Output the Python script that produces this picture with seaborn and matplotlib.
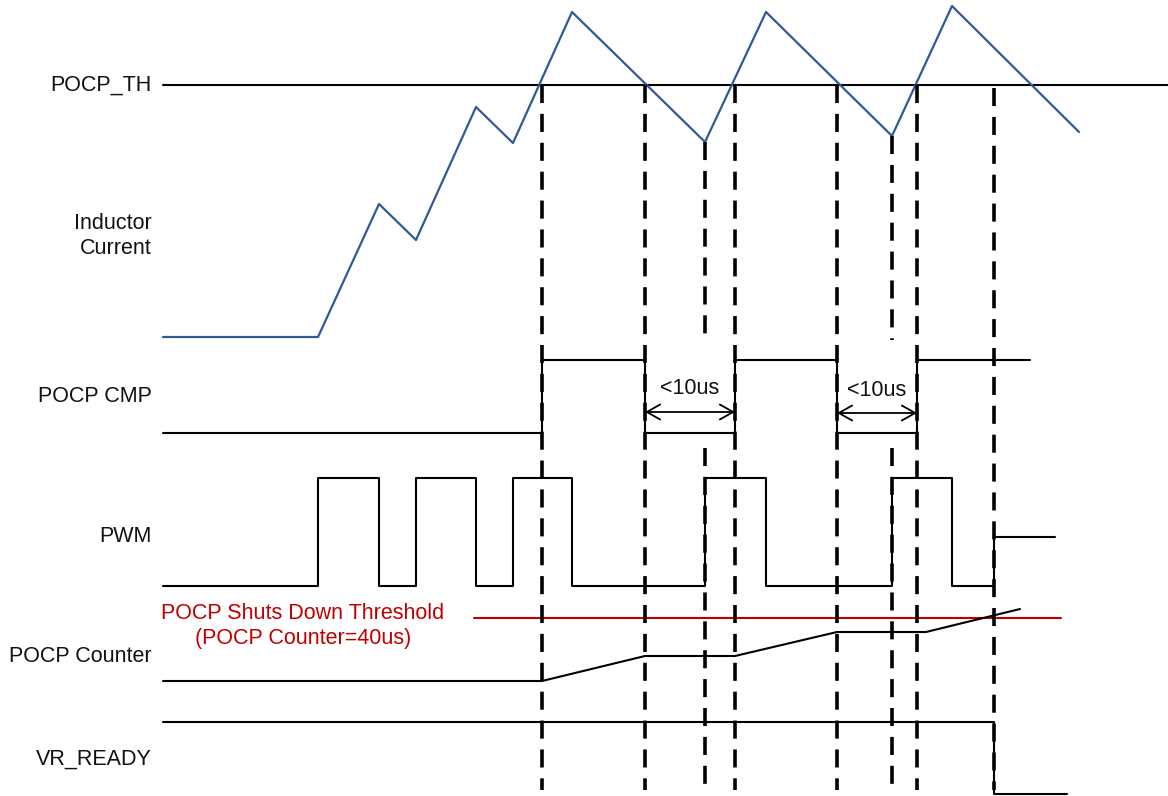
import matplotlib
matplotlib.use("Agg")
import matplotlib.pyplot as plt
import seaborn as sns
import pandas as pd

sns.set_theme(style="white")
plt.rcParams['font.family'] = ['Liberation Sans', 'DejaVu Sans']

# ---- waveform data (time in px-like units, level in px-like units, y grows downward) ----
il_t = [163, 318, 379, 416, 476, 513, 572, 705, 766, 892, 952, 1079]
il_y = [337, 337, 204, 240, 107, 143, 12, 142, 12, 136, 6, 132]

th_t = [163, 1168]
th_y = [85, 85]

cmp_t = [163, 542, 542, 645, 645, 735, 735, 837, 837, 917, 917, 1030]
cmp_y = [433, 433, 360, 360, 433, 433, 360, 360, 433, 433, 360, 360]

pwm_t = [163, 318, 318, 379, 379, 416, 416, 476, 476, 513, 513, 572, 572, 705, 705,
         766, 766, 892, 892, 952, 952, 994, 994, 1055]
pwm_y = [586, 586, 478, 478, 586, 586, 478, 478, 586, 586, 478, 478, 586, 586, 478,
         478, 586, 586, 478, 478, 586, 586, 537, 537]

cnt_t = [163, 542, 645, 735, 837, 926, 1020]
cnt_y = [681, 681, 656, 656, 632, 632, 609]

shut_t = [474, 1061]
shut_y = [618, 618]

vr_t = [163, 994, 994, 1067]
vr_y = [722, 722, 794, 794]

# dashed event markers: x, start, end
mark_x = [542, 645, 705, 705, 735, 837, 892, 892, 917, 994]
mark_y0 = [85, 85, 142, 448, 85, 85, 136, 448, 85, 88]
mark_y1 = [790, 790, 340, 790, 790, 790, 340, 790, 790, 790]

# interval annotations
gap_x0 = [645, 837]
gap_x1 = [735, 917]
gap_y = [412, 413]
gap_label = ["<10us", "<10us"]

labels = ["POCP_TH", "Inductor\nCurrent", "POCP CMP", "PWM", "POCP Counter", "VR_READY"]
label_y = [85, 236, 397, 536, 657, 759]

red_text = "POCP Shuts Down Threshold\n(POCP Counter=40us)"

fig = plt.figure(figsize=(11.68, 7.96), dpi=100)
ax = fig.add_axes([0, 0, 1, 1])

def draw(t, y, color, lw):
    df = pd.DataFrame({"t": t, "y": y, "o": range(len(t))})
    sns.lineplot(data=df, x="t", y="y", sort=False, estimator=None, color=color,
                 linewidth=lw, ax=ax, legend=False)

black = "#000000"
draw(th_t, th_y, black, 1.5)
draw(il_t, il_y, "#2F5A96", 1.6)
draw(cmp_t, cmp_y, black, 1.5)
draw(pwm_t, pwm_y, black, 1.5)
draw(shut_t, shut_y, "#C00000", 1.5)
draw(cnt_t, cnt_y, black, 1.5)
draw(vr_t, vr_y, black, 1.5)

ax.vlines(mark_x, mark_y0, mark_y1, colors=black, linestyles=(0, (5, 3)), linewidth=2.6)

for x0, x1, y, lab in zip(gap_x0, gap_x1, gap_y, gap_label):
    ax.annotate("", xy=(x0, y), xytext=(x1, y),
                arrowprops=dict(arrowstyle="<->,head_length=0.8,head_width=0.45",
                                color=black, lw=1.3, shrinkA=0, shrinkB=0))
    ax.text((x0 + x1) / 2, y - 23, lab, ha="center", va="center", fontsize=15.5, color="#111111")

for lab, y in zip(labels, label_y):
    ax.text(152, y, lab, ha="right", va="center", fontsize=15.5, color="#111111",
            linespacing=1.25)

ax.text(303, 626, red_text, ha="center", va="center", fontsize=15.5, color="#C00000",
        linespacing=1.3)

ax.set_xlim(0, 1168)
ax.set_ylim(796, 0)
ax.axis("off")

fig.savefig("out.png", dpi=100)
